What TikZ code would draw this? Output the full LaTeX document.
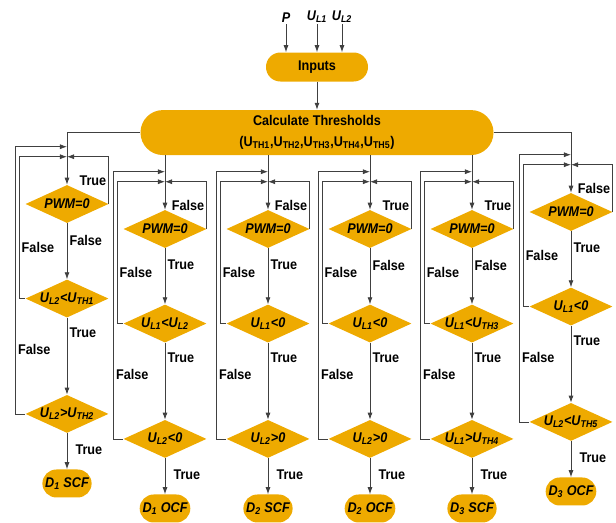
\documentclass[tikz,border=0pt]{standalone}
\usepackage{fontspec}
\setmainfont{Liberation Sans}[FakeStretch=0.9]
\usetikzlibrary{arrows.meta,positioning,shapes.geometric}

\definecolor{fcorange}{RGB}{238,170,0}
\newcommand{\figfont}{\fontsize{10}{12}\selectfont}
\newcommand{\subtxt}[1]{\textsubscript{#1}}
\newcommand{\cnd}[1]{\makebox[0pt]{#1}}

\begin{document}
\begin{tikzpicture}[
    >={Latex[length=5pt,width=3.6pt]},
    cond/.style={diamond, fill=fcorange, minimum width=2.075cm,
      minimum height=0.95cm, inner sep=0pt, font=\figfont\bfseries\itshape},
    term/.style={fill=fcorange, rounded corners=0.35cm, minimum height=0.7cm,
      inner xsep=2pt, font=\figfont\bfseries\itshape},
    proc/.style={fill=fcorange, align=center, font=\figfont\bfseries},
    invar/.style={font=\figfont\bfseries\itshape, inner sep=1pt},
    lbl/.style={font=\figfont\bfseries, inner sep=1.5pt},
    arw/.style={->, draw=black!75, line width=0.6pt},
  ]
    \useasboundingbox (0,0) rectangle (15.4,-13.075);

    % Inputs and thresholds
    \node[proc, minimum width=2.55cm, minimum height=0.725cm,
      rounded corners=0.36cm] (inputs) at (7.925,-1.675) {Inputs};
    \node[proc, below=0.7cm of inputs, minimum width=8.825cm, minimum height=1.125cm,
      rounded corners=0.56cm, font=\fontsize{10}{15}\selectfont\bfseries] (calc)
      {Calculate Thresholds\\(U\subtxt{TH1},U\subtxt{TH2},U\subtxt{TH3},U\subtxt{TH4},U\subtxt{TH5})};

    \node[invar, above=0.7cm of inputs, xshift=-0.775cm] (inP) {P};
    \node[invar, above=0.7cm of inputs] (inU1) {U\subtxt{L1}};
    \node[invar, above=0.7cm of inputs, xshift=0.625cm] (inU2) {U\subtxt{L2}};

    \draw[arw] (inP) -- (inP |- inputs.north);
    \draw[arw] (inU1) -- (inU1 |- inputs.north);
    \draw[arw] (inU2) -- (inU2 |- inputs.north);
    \draw[arw] (inputs) -- (calc);

    % Column 1: D1 SCF
    \node[cond] (a1) at (1.675,-5.1) {\cnd{PWM=0}};
    \node[cond, below=1.4cm of a1] (a2) {\cnd{U\subtxt{L2}<U\subtxt{TH1}}};
    \node[cond, below=1.92cm of a2] (a3) {\cnd{U\subtxt{L2}>U\subtxt{TH2}}};
    \node[term, below=0.9cm of a3] (ao) {D\subtxt{1} SCF};
    \coordinate (aj1) at ([yshift=0.95cm]a1.north);
    \coordinate (aj2) at ([yshift=0.7cm]a1.north);

    \draw[arw] (calc.west) -| (a1.north);
    \draw[arw] (a1) -- node[lbl, pos=0.3, right] {False} (a2);
    \draw[arw] (a2) -- node[lbl, pos=0.2, right] {True} (a3);
    \draw[arw] (a3) -- node[lbl, pos=0.45, right=0.15cm] {True} (ao);
    \draw[arw] (a1.east) |- node[lbl, pos=0.25, left] {True} (aj2);
    \draw[arw] (a2.west) -- ++(-0.15,0) |- node[lbl, pos=0.18, right] {False} (aj2);
    \draw[arw] (a3.west) -- ++(-0.24,0) |- node[lbl, pos=0.12, right] {False} (aj1);

    % Column 2: D1 OCF
    \node[cond] (b1) at (4.125,-5.725) {\cnd{PWM=0}};
    \node[cond, below=1.4cm of b1] (b2) {\cnd{U\subtxt{L1}<U\subtxt{L2}}};
    \node[cond, below=1.92cm of b2] (b3) {\cnd{U\subtxt{L2}<0}};
    \node[term, below=0.9cm of b3] (bo) {D\subtxt{1} OCF};
    \coordinate (bj1) at ([yshift=0.95cm]b1.north);
    \coordinate (bj2) at ([yshift=0.7cm]b1.north);

    \draw[arw] (b1 |- calc.south) -- (b1);
    \draw[arw] (b1) -- node[lbl, pos=0.3, right] {True} (b2);
    \draw[arw] (b2) -- node[lbl, pos=0.2, right] {True} (b3);
    \draw[arw] (b3) -- node[lbl, pos=0.45, right=0.15cm] {True} (bo);
    \draw[arw] (b1.east) |- node[lbl, pos=0.25, left] {False} (bj2);
    \draw[arw] (b2.west) -- ++(-0.15,0) |- node[lbl, pos=0.18, right] {False} (bj2);
    \draw[arw] (b3.west) -- ++(-0.24,0) |- node[lbl, pos=0.12, right] {False} (bj1);

    % Column 3: D2 SCF
    \node[cond] (c1) at (6.7,-5.725) {\cnd{PWM=0}};
    \node[cond, below=1.4cm of c1] (c2) {\cnd{U\subtxt{L1}<0}};
    \node[cond, below=1.92cm of c2] (c3) {\cnd{U\subtxt{L2}>0}};
    \node[term, below=0.9cm of c3] (co) {D\subtxt{2} SCF};
    \coordinate (cj1) at ([yshift=0.95cm]c1.north);
    \coordinate (cj2) at ([yshift=0.7cm]c1.north);

    \draw[arw] (c1 |- calc.south) -- (c1);
    \draw[arw] (c1) -- node[lbl, pos=0.3, right] {True} (c2);
    \draw[arw] (c2) -- node[lbl, pos=0.2, right] {True} (c3);
    \draw[arw] (c3) -- node[lbl, pos=0.45, right=0.15cm] {True} (co);
    \draw[arw] (c1.east) |- node[lbl, pos=0.25, left] {False} (cj2);
    \draw[arw] (c2.west) -- ++(-0.15,0) |- node[lbl, pos=0.18, right] {False} (cj2);
    \draw[arw] (c3.west) -- ++(-0.24,0) |- node[lbl, pos=0.12, right] {False} (cj1);

    % Column 4: D2 OCF
    \node[cond] (d1) at (9.25,-5.725) {\cnd{PWM=0}};
    \node[cond, below=1.4cm of d1] (d2) {\cnd{U\subtxt{L1}<0}};
    \node[cond, below=1.92cm of d2] (d3) {\cnd{U\subtxt{L2}>0}};
    \node[term, below=0.9cm of d3] (do) {D\subtxt{2} OCF};
    \coordinate (dj1) at ([yshift=0.95cm]d1.north);
    \coordinate (dj2) at ([yshift=0.7cm]d1.north);

    \draw[arw] (d1 |- calc.south) -- (d1);
    \draw[arw] (d1) -- node[lbl, pos=0.3, right] {False} (d2);
    \draw[arw] (d2) -- node[lbl, pos=0.2, right] {True} (d3);
    \draw[arw] (d3) -- node[lbl, pos=0.45, right=0.15cm] {True} (do);
    \draw[arw] (d1.east) |- node[lbl, pos=0.25, left] {True} (dj2);
    \draw[arw] (d2.west) -- ++(-0.15,0) |- node[lbl, pos=0.18, right] {False} (dj2);
    \draw[arw] (d3.west) -- ++(-0.24,0) |- node[lbl, pos=0.12, right] {False} (dj1);

    % Column 5: D3 SCF
    \node[cond] (e1) at (11.8,-5.725) {\cnd{PWM=0}};
    \node[cond, below=1.4cm of e1] (e2) {\cnd{U\subtxt{L1}<U\subtxt{TH3}}};
    \node[cond, below=1.92cm of e2] (e3) {\cnd{U\subtxt{L1}>U\subtxt{TH4}}};
    \node[term, below=0.9cm of e3] (eo) {D\subtxt{3} SCF};
    \coordinate (ej1) at ([yshift=0.95cm]e1.north);
    \coordinate (ej2) at ([yshift=0.7cm]e1.north);

    \draw[arw] (e1 |- calc.south) -- (e1);
    \draw[arw] (e1) -- node[lbl, pos=0.3, right] {False} (e2);
    \draw[arw] (e2) -- node[lbl, pos=0.2, right] {True} (e3);
    \draw[arw] (e3) -- node[lbl, pos=0.45, right=0.15cm] {True} (eo);
    \draw[arw] (e1.east) |- node[lbl, pos=0.25, left] {True} (ej2);
    \draw[arw] (e2.west) -- ++(-0.15,0) |- node[lbl, pos=0.18, right] {False} (ej2);
    \draw[arw] (e3.west) -- ++(-0.24,0) |- node[lbl, pos=0.12, right] {False} (ej1);

    % Column 6: D3 OCF
    \node[cond] (f1) at (14.275,-5.3) {\cnd{PWM=0}};
    \node[cond, below=1.4cm of f1] (f2) {\cnd{U\subtxt{L1}<0}};
    \node[cond, below=1.92cm of f2] (f3) {\cnd{U\subtxt{L2}<U\subtxt{TH5}}};
    \node[term, below=0.9cm of f3] (fo) {D\subtxt{3} OCF};
    \coordinate (fj1) at ([yshift=0.95cm]f1.north);
    \coordinate (fj2) at ([yshift=0.7cm]f1.north);

    \draw[arw] (calc.east) -| (f1.north);
    \draw[arw] (f1) -- node[lbl, pos=0.3, right] {True} (f2);
    \draw[arw] (f2) -- node[lbl, pos=0.2, right] {True} (f3);
    \draw[arw] (f3) -- node[lbl, pos=0.45, right=0.15cm] {True} (fo);
    \draw[arw] (f1.east) |- node[lbl, pos=0.25, left] {False} (fj2);
    \draw[arw] (f2.west) -- ++(-0.15,0) |- node[lbl, pos=0.18, right] {False} (fj2);
    \draw[arw] (f3.west) -- ++(-0.24,0) |- node[lbl, pos=0.12, right] {False} (fj1);

  \end{tikzpicture}
\end{document}
